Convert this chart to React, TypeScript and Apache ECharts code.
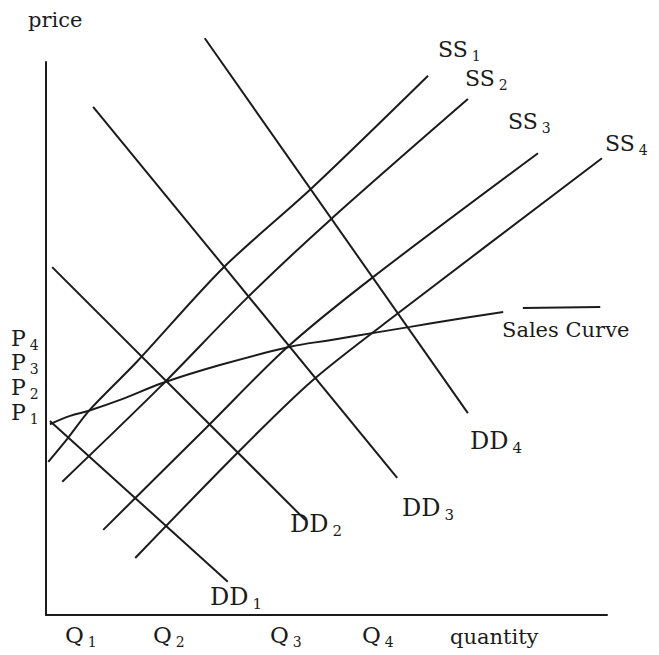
import React, { useEffect, useRef } from "react";
import * as echarts from "echarts";

// Values: quantity (0-100) and price (0-100) units
const DD1: number[][] = [[0.7, 35.1], [32.4, 6.0]];
const DD2: number[][] = [[1.1, 62.9], [46.2, 17.2]];
const DD3: number[][] = [[8.4, 91.9], [62.6, 24.8]];
const DD4: number[][] = [[28.3, 104.3], [75.2, 36.5]];

const SS1: number[][] = [[0.4, 27.7], [3.9, 32.0], [7.8, 37.1], [16.2, 45.8], [31.6, 62.8], [47.4, 77.2], [68.1, 97.5]];
const SS2: number[][] = [[2.9, 24.1], [20.3, 41.2], [35.8, 57.3], [50.6, 71.4], [75.2, 93.3]];
const SS3: number[][] = [[10.2, 15.4], [28.7, 34.0], [43.1, 48.5], [58.3, 61.1], [87.7, 83.5]];
const SS4: number[][] = [[15.9, 10.3], [34.1, 29.3], [47.6, 42.5], [62.8, 54.6], [99.1, 82.6]];

const SALES: number[][] = [[0.7, 34.5], [4.3, 36.0], [7.5, 36.9], [13.2, 38.9], [20.9, 42.0], [31.0, 45.2], [43.5, 48.5], [50.6, 49.7], [59.5, 51.2], [64.9, 52.1], [72.0, 53.3], [81.5, 54.8]];
const SALES_TAIL: number[][] = [[85.0, 55.5], [98.8, 55.7]];

const SS_NAMES = ["1", "2", "3", "4"];
const DD_NAMES = ["1", "2", "3", "4"];
const P_TICKS = ["4", "3", "2", "1"];
const Q_TICKS = ["1", "2", "3", "4"];

const INK = "#1b1b1b";
const FONT = "'DejaVu Serif', 'Liberation Serif', serif";

function subLabel(main: string, sub: string, x: number, y: number, mainSize: number, subSize: number) {
  return {
    type: "text",
    x,
    y,
    silent: true,
    style: {
      text: `{m|${main}}{s|${sub}}`,
      rich: {
        m: { fontSize: mainSize, lineHeight: 28, fontFamily: FONT, fill: INK, verticalAlign: "middle" },
        s: { fontSize: subSize, lineHeight: 10, fontFamily: FONT, fill: INK, verticalAlign: "bottom", padding: [0, 0, 0, 4] },
      },
      align: "left",
      verticalAlign: "middle",
      fill: INK,
    },
  };
}

function plainLabel(text: string, x: number, y: number, size: number) {
  return {
    type: "text",
    x,
    y,
    silent: true,
    style: { text, fontSize: size, fontFamily: FONT, fill: INK, align: "left", verticalAlign: "middle" },
  };
}

function lineSeries(name: string, data: number[][], smooth: boolean | number) {
  return {
    name,
    type: "line",
    data,
    smooth,
    symbol: "none",
    showSymbol: false,
    clip: false,
    silent: true,
    lineStyle: { color: INK, width: 2 },
  };
}

export default function App() {
  const ref = useRef<HTMLDivElement>(null);
  useEffect(() => {
    if (!ref.current) return;
    const chart = echarts.init(ref.current, undefined, { renderer: "svg" });
    const ssPos = [[438, 49], [465, 78], [508, 121], [605, 143]];
    const ddPos = [[210, 597], [290, 524], [402, 508], [470, 441]];
    const pY = [338, 362, 387, 412];
    const qX = [65, 153, 270, 362];
    const graphics: any[] = [
      plainLabel("price", 28, 20, 21),
      plainLabel("Sales Curve", 502, 330, 21),
      plainLabel("quantity", 450, 637, 21),
    ];
    SS_NAMES.forEach((s, i) => graphics.push(subLabel("SS", s, ssPos[i][0], ssPos[i][1], 22, 14)));
    DD_NAMES.forEach((s, i) => graphics.push(subLabel("DD", s, ddPos[i][0], ddPos[i][1], 24, 15)));
    P_TICKS.forEach((s, i) => graphics.push(subLabel("P", s, 11, pY[i], 22, 14)));
    Q_TICKS.forEach((s, i) => graphics.push(subLabel("Q", s, qX[i], 635, 23, 14)));

    chart.setOption({
      animation: false,
      backgroundColor: "#ffffff",
      grid: { left: 46, right: 52, top: 62, bottom: 40 },
      xAxis: {
        type: "value",
        min: 0,
        max: 100,
        axisLine: { show: true, lineStyle: { color: INK, width: 2 } },
        axisTick: { show: false },
        axisLabel: { show: false },
        splitLine: { show: false },
      },
      yAxis: {
        type: "value",
        min: 0,
        max: 100,
        axisLine: { show: true, lineStyle: { color: INK, width: 2 } },
        axisTick: { show: false },
        axisLabel: { show: false },
        splitLine: { show: false },
      },
      series: [
        lineSeries("DD1", DD1, false),
        lineSeries("DD2", DD2, false),
        lineSeries("DD3", DD3, false),
        lineSeries("DD4", DD4, false),
        lineSeries("SS1", SS1, 0.3),
        lineSeries("SS2", SS2, 0.3),
        lineSeries("SS3", SS3, 0.3),
        lineSeries("SS4", SS4, 0.3),
        lineSeries("Sales Curve", SALES, 0.4),
        lineSeries("Sales Curve tail", SALES_TAIL, false),
      ],
      graphic: graphics,
    });
    return () => chart.dispose();
  }, []);
  return <div ref={ref} style={{ position: "fixed", left: 0, top: 0, width: 659, height: 655, background: "#fff" }} />;
}
